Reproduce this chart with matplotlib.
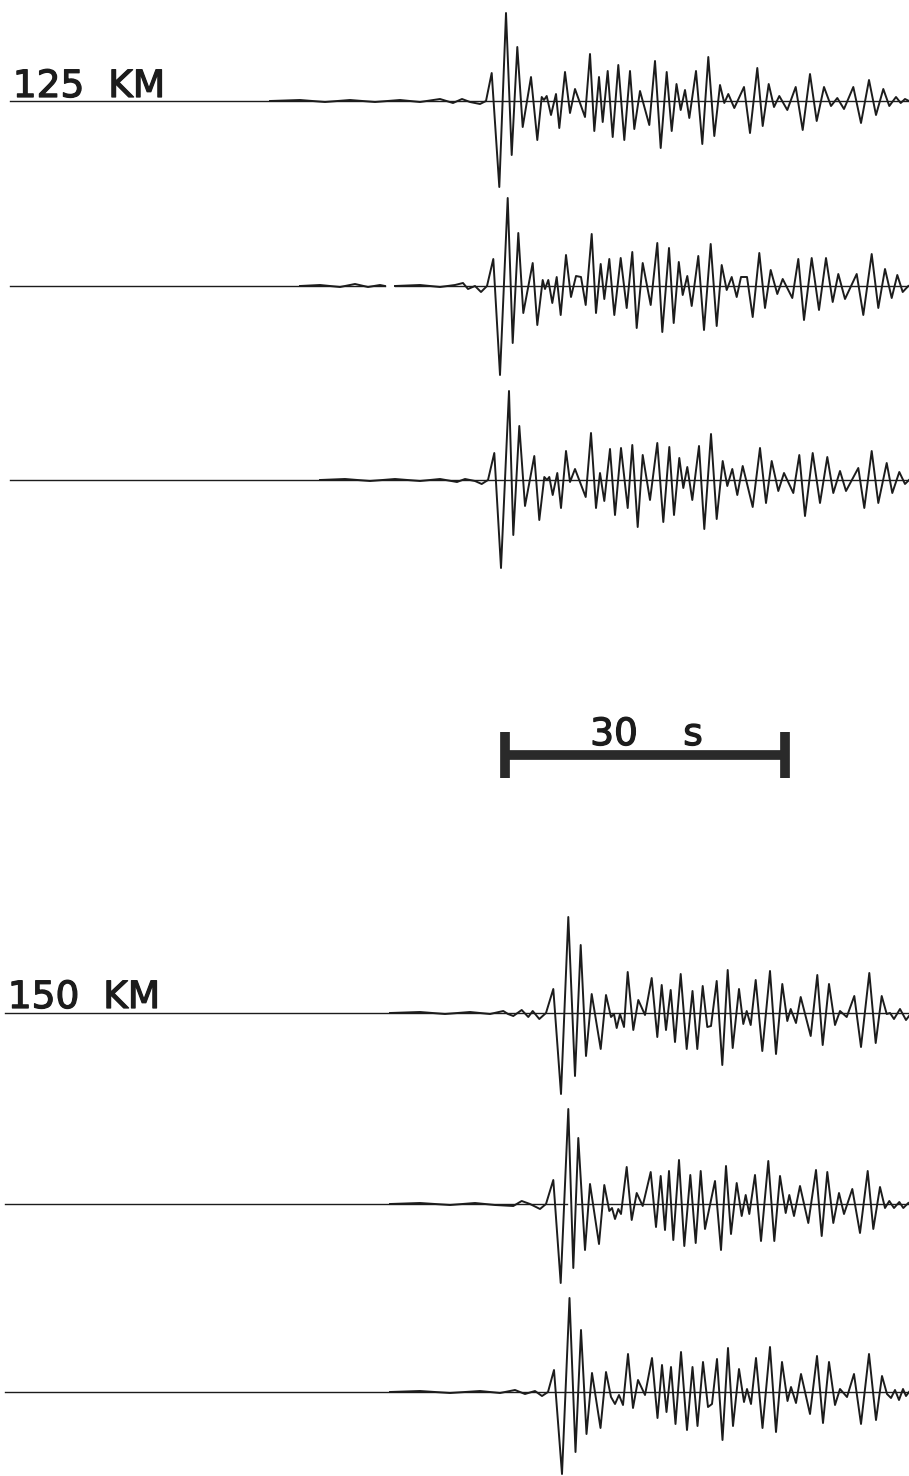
import numpy as np
import matplotlib.pyplot as plt
import matplotlib.patheffects as pe

# record readings: time in record units (280 units = 30 s), amplitude in record units
SEC = 30 / 280

# ---- 125 KM, three components ----
t1 = [270, 300, 325, 350, 375, 400, 420, 440, 453, 462, 470, 480, 486,
      491.7, 499.3, 506, 511.7, 517.3, 522.7, 531, 537.3, 541.7, 544, 546.7, 551, 556, 559.3,
      565, 570, 575, 585, 590, 594.3, 599, 602.7, 607.7, 612.7, 618.3, 624.3, 630, 634.3,
      640, 649.3, 655, 660.7, 666.7, 671.7, 676.5, 680.7, 685, 689.3, 696, 702.3, 708.3,
      714.3, 720, 724.3, 728.3, 734.3, 744, 750, 757.3, 762.7, 768.7, 774, 779.3, 787.3,
      795.7, 802.7, 810, 816.7, 824, 831, 837.3, 844, 853.3, 861, 869, 876, 883.3, 889.3,
      896, 900.7, 905, 909]
a1 = [0, 1, -1, 1, -1, 1, -1, 2, -2, 2, -1, -3, 0,
      28, -86, 88, -54, 54, -26, 24, -39, 4, 1, 5, -14, 7, -27,
      29, -12, 12, -16, 47, -30, 24, -21, 30, -36, 36, -39, 30, -28,
      10, -24, 40, -47, 29, -30, 17, -9, 11, -17, 30, -43, 44,
      -35, 16, -2, 7, -7, 14, -32, 33, -25, 17, -6, 5, -9,
      14, -29, 27, -20, 14, -5, 3, -8, 14, -22, 21, -14, 12, -5,
      4, -2, 2, 0]

t2 = [300, 320, 340, 355, 368, 380, 385, 390, 395, 420, 440, 455, 463, 468, 475, 481, 487,
      493.3, 500, 507.7, 512.7, 518.3, 523.3, 532.7, 537.3, 542.7, 545, 548.3, 552.3, 556.7,
      560.7, 566, 571, 576, 581, 585.7, 591.7, 596, 600.7, 604.3, 609.3, 614.3, 620.7, 626.7,
      632.3, 636.7, 642.7, 650.7, 657.3, 662.3, 669, 673.7, 678.8, 682.7, 687.3, 691.7, 698.3,
      704, 710.7, 716.7, 721.7, 726.7, 731.7, 736.7, 741, 747, 752.7, 759.3, 765, 770.7, 777.3,
      782.7, 792.3, 798.3, 804, 811.7, 819, 826, 832.7, 838.3, 845, 856.7, 863.3, 871.7, 878.3,
      885, 891.7, 897.3, 902.7, 908.3]
a2 = [0, 1, -1, 2, -1, 1, 0, np.nan, 0, 1, -1, 1, 3, -3, 0, -6, 0,
      27, -89, 88, -57, 53, -27, 23, -39, 6, -3, 6, -17, 9,
      -29, 31, -11, 10, 9, -19, 52, -27, 22, -13, 27, -29, 28, -22,
      34, -42, 23, -19, 43, -46, 38, -37, 24, -9, 10, -20, 30,
      -44, 42, -40, 21, -4, 9, -11, 9, 9, -31, 33, -22, 16, -8,
      7, -12, 27, -34, 28, -24, 28, -16, 12, -13, 12, -29, 32, -22,
      17, -12, 11, -6, 0]

t3 = [320, 345, 370, 395, 420, 440, 457, 465, 475, 481.7, 488,
      494.3, 501, 509, 513.3, 519.3, 525, 534.3, 539.3, 544.3, 547, 549.3, 552.7, 557.3, 561,
      566, 570, 575, 585.7, 591, 596, 600, 604.3, 610, 615, 621, 627.7, 632.3, 637.7, 642.7,
      650, 657.3, 663.3, 669.3, 674, 679.3, 683.3, 687.3, 692.3, 699, 704.3, 711, 716.7,
      722.7, 727.3, 732.3, 737.3, 742.7, 752.7, 760, 766, 771.7, 778.3, 784, 793.3, 799.3,
      805, 812.7, 820, 827.3, 833.3, 840, 846, 858.3, 864.3, 871.7, 878.3, 886.7, 892.3,
      899.3, 905, 909]
a3 = [0, 1, -1, 1, -1, 1, -2, 1, -1, -4, 0,
      27, -88, 89, -55, 54, -26, 24, -40, 3, 0, 3, -15, 7, -28,
      29, -2, 11, -17, 47, -28, 7, -21, 31, -35, 32, -28, 35, -47, 25,
      -20, 37, -42, 33, -35, 22, -8, 13, -20, 34, -49, 46, -39,
      19, -6, 11, -15, 14, -27, 32, -23, 19, -11, 7, -13, 25,
      -36, 27, -23, 23, -13, 9, -11, 12, -28, 29, -23, 17, -13,
      8, -4, 0]

# ---- 150 KM, three components ----
t4 = [390, 420, 445, 470, 490, 503.3, 508, 513.3, 521.7, 528.3, 532.7, 539.3, 546,
      553.3, 561, 568.3, 575, 580.7, 586, 591.7, 600.7, 606, 611, 614, 616.7, 620, 624,
      627.7, 633.3, 638.3, 645, 651.7, 657.3, 661.7, 666, 670.7, 675, 680.7, 686.7, 692.5,
      697.3, 702.7, 707.3, 711, 716.7, 722.3, 727.7, 732.7, 739, 743.3, 746.7, 750.7, 755.7,
      762.3, 770, 776, 782.3, 787.3, 790.7, 796, 800.7, 810.7, 817.3, 822.7, 829, 835, 840,
      846.7, 854.3, 861, 869.3, 875.7, 881.7, 886.7, 890, 894, 900, 906, 909]
a4 = [0, 1, -1, 1, -1, 2, -1, -3, 3, -4, 2, -6, 0,
      24, -81, 96, -63, 68, -43, 19, -36, 18, -4, -1, -15, -1, -14,
      41, -17, 13, -2, 35, -24, 28, -17, 23, -29, 39, -36, 22,
      -36, 27, -14, -13, 32, -52, 43, -35, 24, -11, 2, -12, 33,
      -38, 42, -41, 29, -8, 4, -10, 16, -23, 38, -32, 29, -12, 2,
      -4, 17, -34, 40, -30, 17, -1, 0, -6, 4, -7, -3]

t5 = [390, 420, 450, 475, 495, 513.3, 521.7, 530, 540, 546,
      553.3, 560.7, 568.3, 573.3, 578.3, 585, 590, 599, 604.3, 609.3, 612, 615, 618.3, 621,
      626.7, 631.7, 636.7, 642.7, 650.7, 656, 660.7, 665, 669, 673.3, 679, 684.3, 690.3,
      695.7, 700.7, 705, 715, 721, 726, 731, 736.7, 741.7, 745.7, 749.3, 755, 761, 768.3,
      774.3, 780, 785.7, 789.3, 794, 800, 808.3, 816, 821.7, 827.3, 833.3, 839, 844, 852.3,
      860, 867.7, 873.3, 880, 885, 889.3, 894, 899.3, 903.3, 908.3]
a5 = [0, 1, -1, 1, -1, -2, 3, 0, -5, 0,
      24, -79, 95, -64, 66, -46, 20, -40, 19, -7, -4, -15, -5, -10,
      37, -16, 11, -2, 32, -23, 28, -26, 33, -36, 44, -42, 29,
      -39, 33, -25, 23, -46, 38, -30, 21, -12, 9, -10, 29, -37, 43,
      -37, 28, -9, 9, -12, 18, -19, 34, -32, 32, -19, 11, -10, 15,
      -29, 33, -25, 17, -4, 3, -4, 2, -4, 1]

t6 = [390, 420, 450, 480, 500, 515, 525, 535, 542, 548,
      554, 562, 569.5, 575.5, 581, 586.5, 592, 600.5, 606, 611, 615, 619, 623,
      628, 633, 638, 645, 652, 657.5, 662, 666.5, 671, 675.5, 681, 687, 692.5,
      697.5, 703, 708, 712, 717, 722.5, 728, 733, 739, 744, 747, 751, 756,
      762.5, 770, 776, 782, 787.5, 791, 796, 801, 810, 817, 823, 829, 835, 840,
      847, 854, 861, 869, 876, 882, 887, 891, 895, 899, 903, 906, 909]
a6 = [0, 1, -1, 1, -1, 2, -2, 1, -4, 0,
      22, -82, 94, -60, 62, -42, 19, -36, 20, -5, -12, -3, -13,
      38, -16, 12, -3, 34, -26, 27, -20, 25, -32, 40, -38, 25,
      -34, 30, -15, -12, 33, -48, 44, -34, 23, -10, 3, -12, 34,
      -36, 45, -40, 30, -9, 5, -11, 18, -22, 36, -31, 30, -13, 3,
      -5, 18, -32, 38, -28, 16, -2, -6, 2, -8, 3, -4, 0]

groups = [("125  KM", [(t1, a1), (t2, a2), (t3, a3)]),
          ("150  KM", [(t4, a4), (t5, a5), (t6, a6)])]

# ---- layout (pixel-ish figure coords) ----
W, H = 909, 1476
fig = plt.figure(figsize=(W / 100, H / 100), dpi=100)
ax = fig.add_axes([0, 0, 1, 1])
ax.set_xlim(0, W * SEC)
ax.set_ylim(H, 0)
ax.axis('off')

ink = '#1c1c1c'
txt = dict(fontsize=27, family='DejaVu Sans', color=ink, va='baseline',
           path_effects=[pe.withStroke(linewidth=0.9, foreground=ink)])
offsets = [[101, 286, 480], [1013, 1204, 1392]]
starts = [10, 5]
gaps = {(0, 1): (385, 395), (1, 1): (567, 577)}
label_y = [97, 1008]
for gi, (label, traces) in enumerate(groups):
    for ti, (t, a) in enumerate(traces):
        y0 = offsets[gi][ti]
        # straight zero line drawn through the trace
        segs = [(starts[gi], W)]
        if (gi, ti) in gaps:
            g0, g1 = gaps[(gi, ti)]
            segs = [(starts[gi], g0), (g1, W)]
        for s0, s1 in segs:
            ax.plot([s0 * SEC, s1 * SEC], [y0, y0], color=ink, lw=1.0)
        ax.plot(np.array(t) * SEC, y0 - np.array(a, dtype=float), color=ink, lw=1.4,
                solid_joinstyle='round')
    ax.text(starts[gi] * SEC + 0.3, label_y[gi], label, ha='left', **txt)

# 30 s scale bar
bar_x0 = 505 * SEC
ax.plot([bar_x0, bar_x0 + 30], [755, 755], color='#2a2a2a', lw=7, solid_capstyle='butt')
for xb in (bar_x0, bar_x0 + 30):
    ax.plot([xb, xb], [732, 778], color='#2a2a2a', lw=7, solid_capstyle='butt')
ax.text(614 * SEC, 745, "30", ha='center', **txt)
ax.text(693 * SEC, 745, "s", ha='center', **txt)

plt.savefig('out.png', dpi=100, facecolor='white')
